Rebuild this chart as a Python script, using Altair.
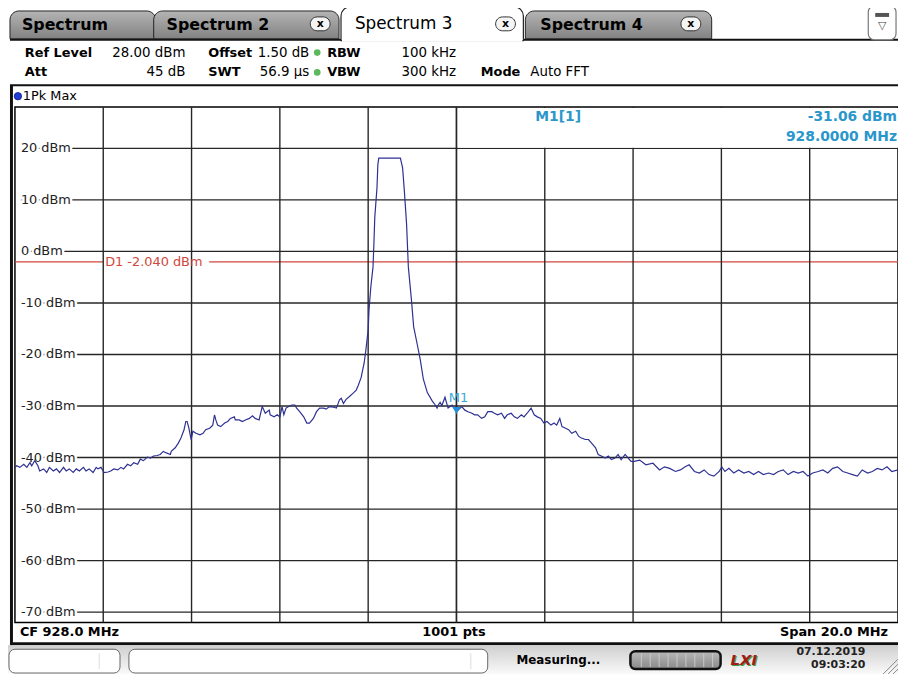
import altair as alt
import pandas as pd

# ---------------- data ----------------
freq_mhz = [
    918.00, 918.04, 918.11, 918.20, 918.27, 918.34, 918.38, 918.45, 918.52, 918.56,
    918.65, 918.72, 918.78, 918.87, 918.94, 919.01, 919.10, 919.16, 919.23, 919.32,
    919.39, 919.46, 919.55, 919.61, 919.68, 919.77, 919.84, 919.88, 919.95, 920.02,
    920.11, 920.17, 920.24, 920.33, 920.40, 920.46, 920.55, 920.62, 920.69, 920.78,
    920.84, 920.91, 921.00, 921.07, 921.14, 921.22, 921.29, 921.36, 921.43, 921.52,
    921.54, 921.63, 921.70, 921.76, 921.83, 921.87, 921.90, 921.94, 921.99, 922.03,
    922.10, 922.19, 922.26, 922.32, 922.41, 922.48, 922.52, 922.55, 922.59, 922.66,
    922.75, 922.82, 922.88, 922.97, 922.99, 923.08, 923.15, 923.22, 923.31, 923.38,
    923.44, 923.53, 923.60, 923.64, 923.67, 923.76, 923.78, 923.87, 923.94, 924.00,
    924.05, 924.09, 924.14, 924.20, 924.27, 924.34, 924.38, 924.45, 924.54, 924.61,
    924.67, 924.76, 924.83, 924.90, 924.99, 925.05, 925.12, 925.21, 925.28, 925.35,
    925.39, 925.44, 925.50, 925.57, 925.66, 925.73, 925.77, 925.84, 925.91, 925.95,
    926.00, 926.02, 926.06, 926.11, 926.13, 926.15, 926.20, 926.22, 926.24, 926.73,
    926.78, 926.82, 926.87, 926.91, 926.98, 927.03, 927.12, 927.18, 927.25, 927.34,
    927.45, 927.52, 927.56, 927.58, 927.63, 927.67, 927.74, 927.81, 927.90, 928.00,
    928.12, 928.19, 928.26, 928.35, 928.41, 928.48, 928.57, 928.64, 928.71, 928.80,
    928.86, 928.93, 929.02, 929.09, 929.15, 929.24, 929.31, 929.38, 929.47, 929.53,
    929.60, 929.69, 929.76, 929.83, 929.91, 929.98, 930.05, 930.14, 930.21, 930.27,
    930.34, 930.39, 930.47, 930.54, 930.61, 930.70, 930.77, 930.83, 930.92, 930.99,
    931.06, 931.15, 931.21, 931.28, 931.37, 931.44, 931.51, 931.59, 931.66, 931.73,
    931.82, 931.89, 931.95, 932.00, 932.15, 932.29, 932.45, 932.60, 932.71, 932.83,
    932.96, 933.07, 933.18, 933.27, 933.39, 933.50, 933.61, 933.72, 933.83, 933.95,
    934.01, 934.08, 934.17, 934.28, 934.39, 934.51, 934.62, 934.73, 934.84, 934.95,
    935.07, 935.18, 935.29, 935.40, 935.51, 935.63, 935.74, 935.85, 935.96, 936.07,
    936.19, 936.30, 936.41, 936.52, 936.63, 936.75, 936.86, 936.97, 937.08, 937.19,
    937.31, 937.42, 937.53, 937.64, 937.75, 937.86, 938.00,
]
level_dbm = [
    -41.9, -41.6, -41.9, -41.3, -41.9, -41.0, -41.6, -40.6, -41.6, -42.6,
    -42.2, -42.9, -41.9, -42.6, -42.2, -42.9, -41.9, -42.6, -42.2, -42.9,
    -42.2, -42.6, -41.9, -42.6, -42.2, -42.9, -41.9, -42.2, -41.9, -42.9,
    -42.8, -42.6, -42.2, -42.4, -41.9, -42.2, -41.3, -41.6, -41.0, -41.3,
    -40.3, -40.6, -39.9, -40.1, -39.7, -39.6, -39.4, -38.8, -39.1, -39.4,
    -38.8, -38.1, -37.2, -36.2, -34.6, -33.0, -33.0, -34.3, -36.5, -34.9,
    -35.3, -35.6, -35.3, -34.6, -34.3, -33.7, -31.7, -32.7, -33.7, -34.0,
    -33.3, -33.0, -32.4, -32.1, -32.7, -32.7, -33.0, -32.7, -32.4, -31.9,
    -32.4, -32.7, -30.1, -30.8, -31.4, -30.8, -31.7, -32.1, -31.7, -32.1,
    -30.1, -31.7, -30.4, -30.1, -29.8, -29.8, -30.4, -31.1, -32.1, -33.3,
    -33.3, -32.4, -31.1, -30.4, -30.4, -30.6, -30.1, -30.2, -30.4, -28.8,
    -28.5, -29.5, -28.7, -28.2, -27.5, -26.9, -26.1, -24.5, -21.6, -19.0,
    -15.2, -11.3, -6.9, -3.0, 1.5, 6.6, 12.4, 16.9, 18.1, 18.1,
    16.2, 11.7, 5.3, -3.0, -9.4, -14.6, -18.4, -21.0, -24.8, -27.4,
    -29.0, -29.8, -30.4, -29.9, -29.3, -29.9, -28.3, -30.4, -29.8, -31.06,
    -30.1, -30.8, -31.1, -31.4, -31.7, -31.7, -32.4, -32.1, -31.1, -31.1,
    -31.4, -31.7, -31.4, -32.4, -31.7, -31.4, -32.1, -32.4, -31.7, -32.1,
    -31.4, -30.4, -31.7, -32.1, -32.4, -33.3, -33.0, -33.7, -33.3, -33.7,
    -32.4, -34.0, -34.3, -34.6, -35.3, -34.9, -35.9, -36.2, -36.5, -36.5,
    -37.2, -38.1, -39.4, -39.7, -40.1, -39.7, -40.4, -40.1, -39.4, -40.4,
    -39.4, -40.1, -40.7, -40.8, -40.5, -41.4, -41.1, -42.4, -41.8, -42.1,
    -42.7, -42.4, -41.8, -41.4, -42.7, -43.0, -42.4, -43.3, -43.6, -42.7,
    -41.8, -42.7, -42.1, -43.0, -42.4, -43.0, -42.7, -43.3, -42.7, -43.3,
    -43.0, -43.3, -42.7, -42.4, -43.3, -42.7, -43.0, -42.7, -43.6, -43.0,
    -42.7, -42.4, -43.0, -42.1, -41.8, -42.7, -43.0, -43.3, -43.6, -42.4,
    -43.0, -42.7, -42.1, -42.4, -41.8, -42.7, -42.4,
]

freq_grid = [920, 922, 924, 926, 928, 930, 932, 934, 936]
level_ticks = [20, 10, 0, -10, -20, -30, -40, -50, -60, -70]
level_labels = ["20 dBm", "10 dBm", "0 dBm", "-10 dBm", "-20 dBm",
                "-30 dBm", "-40 dBm", "-50 dBm", "-60 dBm", "-70 dBm"]

center_mhz = 928.0
span_mhz = 20.0
ref_level = 28.0
n_points = 1001
display_line = -2.040
marker_freq = 928.0
marker_level = -31.06

# ---------------- geometry / styling ----------------
W, H = 891, 520
FONT = "DejaVu Sans"
TRACE = "#2e3192"
GRID = "#262626"
MK = "#2a96cc"
RED = "#d0473c"

f_lo, f_hi = center_mhz - span_mhz / 2, center_mhz + span_mhz / 2
xs = alt.Scale(domain=[f_lo, f_hi], nice=False, zero=False)
ys = alt.Scale(domain=[ref_level - 100, ref_level], nice=False, zero=False)

one = alt.Chart(pd.DataFrame({"d": [0]}))


def text(s, x, y, size=13, weight="normal", color="#000", align="left", style=None):
    kw = dict(align=align, baseline="middle", fontSize=size, fontWeight=weight,
              color=color, font=FONT)
    if style:
        kw["fontStyle"] = style
    return one.mark_text(**kw).encode(x=alt.value(x), y=alt.value(y), text=alt.value(s))


def rect(x, x2, y, y2, fill, stroke=None, sw=1.0, **kw):
    mk = dict(fill=fill)
    if stroke:
        mk.update(stroke=stroke, strokeWidth=sw)
    mk.update(kw)
    return one.mark_rect(**mk).encode(x=alt.value(x), x2=alt.value(x2),
                                      y=alt.value(y), y2=alt.value(y2))


def seg(x, y, x2, y2, color="#000", sw=1.0):
    return one.mark_rule(color=color, strokeWidth=sw).encode(
        x=alt.value(x), y=alt.value(y), x2=alt.value(x2), y2=alt.value(y2))


def grad(c1, c2):
    return alt.Gradient(gradient="linear", x1=0, x2=0, y1=0, y2=1,
                        stops=[alt.GradientStop(color=c1, offset=0),
                               alt.GradientStop(color=c2, offset=1)])


layers = []

# ---- tabs ----
tabgrad = grad("#b4b4b4", "#828282")
layers += [
    seg(-5, -68, 891, -68, "#111", 2),
    rect(-5, 142, -97, -69, tabgrad, "#222", 1, cornerRadiusTopLeft=9, cornerRadiusTopRight=9),
    rect(140, 327, -97, -69, tabgrad, "#222", 1, cornerRadiusTopLeft=9, cornerRadiusTopRight=9),
    rect(515, 703, -97, -69, tabgrad, "#222", 1, cornerRadiusTopLeft=9, cornerRadiusTopRight=9),
    rect(329, 513, -101, -67, "#ffffff", "#222", 1.2, cornerRadiusTopLeft=9, cornerRadiusTopRight=9),
    rect(330, 512, -69, -66, "#ffffff"),
    text("Spectrum", 7, -83, 16, "bold"),
    text("Spectrum 2", 153, -83, 16, "bold"),
    text("Spectrum 3", 343, -84, 17),
    text("Spectrum 4", 530, -83, 16, "bold"),
]
for bx in (298, 485, 672):
    layers += [rect(bx, bx + 20, -91, -77, "#f4f4f4", "#333", 1, cornerRadius=7),
               text("x", bx + 10, -84, 11, "bold", align="center")]
layers += [
    rect(861, 889, -102, -68, "#ffffff", "#777", 1.2, cornerRadius=6),
    rect(868, 882, -95, -91, "#555"),
    text("\u25bd", 875, -82, 11, align="center", color="#444"),
]

# ---- header ----
r1, r2 = -55, -35
green = "#5cb85c"
VS = 13.5
layers += [
    text("Ref Level", 10, r1, 13, "bold"), text("28.00 dBm", 172, r1, VS, align="right"),
    text("Offset", 195, r1, 13, "bold"), text("1.50 dB", 297, r1, VS, align="right"),
    text("RBW", 315, r1, 13, "bold"), text("100 kHz", 445, r1, VS, align="right"),
    text("Att", 10, r2, 13, "bold"), text("45 dB", 172, r2, VS, align="right"),
    text("SWT", 195, r2, 13, "bold"), text("56.9 \u00b5s", 297, r2, VS, align="right"),
    text("VBW", 315, r2, 13, "bold"), text("300 kHz", 445, r2, VS, align="right"),
    text("Mode", 470, r2, 13, "bold"), text("Auto FFT", 520, r2, VS),
    one.mark_point(shape="circle", filled=True, size=45, color=green, opacity=1).encode(
        x=alt.value(305), y=alt.value(r1)),
    one.mark_point(shape="circle", filled=True, size=45, color=green, opacity=1).encode(
        x=alt.value(305), y=alt.value(r2)),
    seg(-5, -22, 891, -22, "#111", 2),
    one.mark_point(shape="circle", filled=True, size=55, color="#1f3fd6", opacity=1,
                   stroke="#0a1a80", strokeWidth=0.8).encode(x=alt.value(3), y=alt.value(-11)),
    text("1Pk Max", 8, -11, 13),
    seg(-3.5, -22, -3.5, 543, "#111", 3),
]

# ---- plot: grid, labels, display line ----
X = alt.X("f:Q", scale=xs, axis=None)
Y = alt.Y("lvl:Q", scale=ys, axis=None)
hgrid = pd.DataFrame({"lvl": level_ticks, "label": level_labels})
vgrid = pd.DataFrame({"f": freq_grid})
dline = pd.DataFrame({"lvl": [display_line],
                      "label": [f"D1  {display_line:.3f} dBm"]})

layers += [
    alt.Chart(hgrid).mark_rule(color=GRID, strokeWidth=1.4).encode(
        y=Y, x=alt.value(6), x2=alt.value(W)),
    # display line, interrupted where its label sits
    alt.Chart(dline).mark_rule(color=RED, strokeWidth=1.2).encode(
        y=Y, x=alt.value(0), x2=alt.value(89)),
    alt.Chart(dline).mark_rule(color=RED, strokeWidth=1.2).encode(
        y=Y, x=alt.value(196), x2=alt.value(W)),
    alt.Chart(hgrid).mark_text(align="left", baseline="middle", fontSize=13, font=FONT,
                               stroke="white", strokeWidth=5, color="white").encode(
        y=Y, x=alt.value(6), text="label:N"),
    alt.Chart(vgrid).mark_rule(color=GRID, strokeWidth=1.4).encode(
        x=X, y=alt.value(0), y2=alt.value(H)),
    rect(447, W, 1, 41, "#ffffff"),
    alt.Chart(pd.DataFrame({"f": [center_mhz]})).mark_rule(color=GRID, strokeWidth=1.4).encode(
        x=X, y=alt.value(0), y2=alt.value(H)),
    alt.Chart(hgrid).mark_text(align="left", baseline="middle", fontSize=13, font=FONT,
                               color="#222").encode(y=Y, x=alt.value(6), text="label:N"),
    alt.Chart(dline).mark_text(align="left", baseline="middle", fontSize=13, font=FONT,
                               color=RED).encode(y=Y, x=alt.value(91), text="label:N"),
]

# ---- trace ----
trace = pd.DataFrame({"f": freq_mhz, "lvl": level_dbm})
layers.append(alt.Chart(trace).mark_line(color=TRACE, strokeWidth=1.2).encode(x=X, y=Y))

# ---- marker ----
mk = pd.DataFrame({"f": [marker_freq], "lvl": [marker_level]})
layers += [
    alt.Chart(mk).mark_point(shape="triangle-down", filled=True, size=70, color="#1f8fdc",
                             opacity=1, yOffset=-1).encode(x=X, y=Y),
    alt.Chart(mk).mark_text(text="M1", fontSize=13, font=FONT, color="#3aa6d6",
                            dy=-14, dx=2).encode(x=X, y=Y),
    text("M1[1]", 525, 10, 14, "bold", MK),
    text(f"{marker_level:.2f} dBm", 890, 10, 14, "bold", MK, align="right"),
    text(f"{marker_freq:.4f} MHz", 890, 30, 14, "bold", MK, align="right"),
]

# ---- bottom info row ----
layers += [
    text(f"CF {center_mhz:.1f} MHz", 5, 530, 13, "bold"),
    text(f"{n_points} pts", 443, 530, 13, "bold", align="center"),
    text(f"Span {span_mhz:.1f} MHz", 881, 530, 13, "bold", align="right"),
    seg(-5, 541.5, W, 541.5, "#111", 3),
]

# ---- status bar ----
layers += [
    rect(-7, W, 543, 572, grad("#cfcfcf", "#fafafa")),
    rect(-6, 106, 547, 571, "#ffffff", "#666", 1, cornerRadius=6),
    seg(85, 551, 85, 567, "#ddd", 1),
    rect(115, 477, 547, 571, "#ffffff", "#666", 1, cornerRadius=6),
    seg(460, 551, 460, 567, "#ddd", 1),
    text("Measuring...", 506, 558, 12, "bold"),
    rect(621, 712, 549, 567, grad("#b8b8b8", "#8a8a8a"), "#111", 2.5, cornerRadius=5),
    text("LXI", 723, 559, 15, "bold", "#3f9f3f", style="italic"),
    text("LXI", 722, 558, 15, "bold", "#a31a1a", style="italic"),
    text("07.12.2019", 858, 550, 11, "bold", "#222", align="right"),
    text("09:03:20", 858, 563, 11, "bold", "#222", align="right"),
    seg(891, 557, 876, 572, "#888", 1),
    seg(891, 562, 881, 572, "#888", 1),
    seg(891, 567, 886, 572, "#888", 1),
]
for px in range(632, 706, 9):
    layers.append(seg(px, 551, px, 565, "#c8c8c8", 1))

chart = alt.layer(*layers).properties(
    width=W, height=H,
    padding={"left": 7, "top": 97, "right": 0, "bottom": 52},
    autosize=alt.AutoSizeParams(type="none"),
    background="#ffffff",
).configure_view(stroke="#000", strokeWidth=1.5)

chart.save("out.html", embed_options={"renderer": "svg", "actions": False})
